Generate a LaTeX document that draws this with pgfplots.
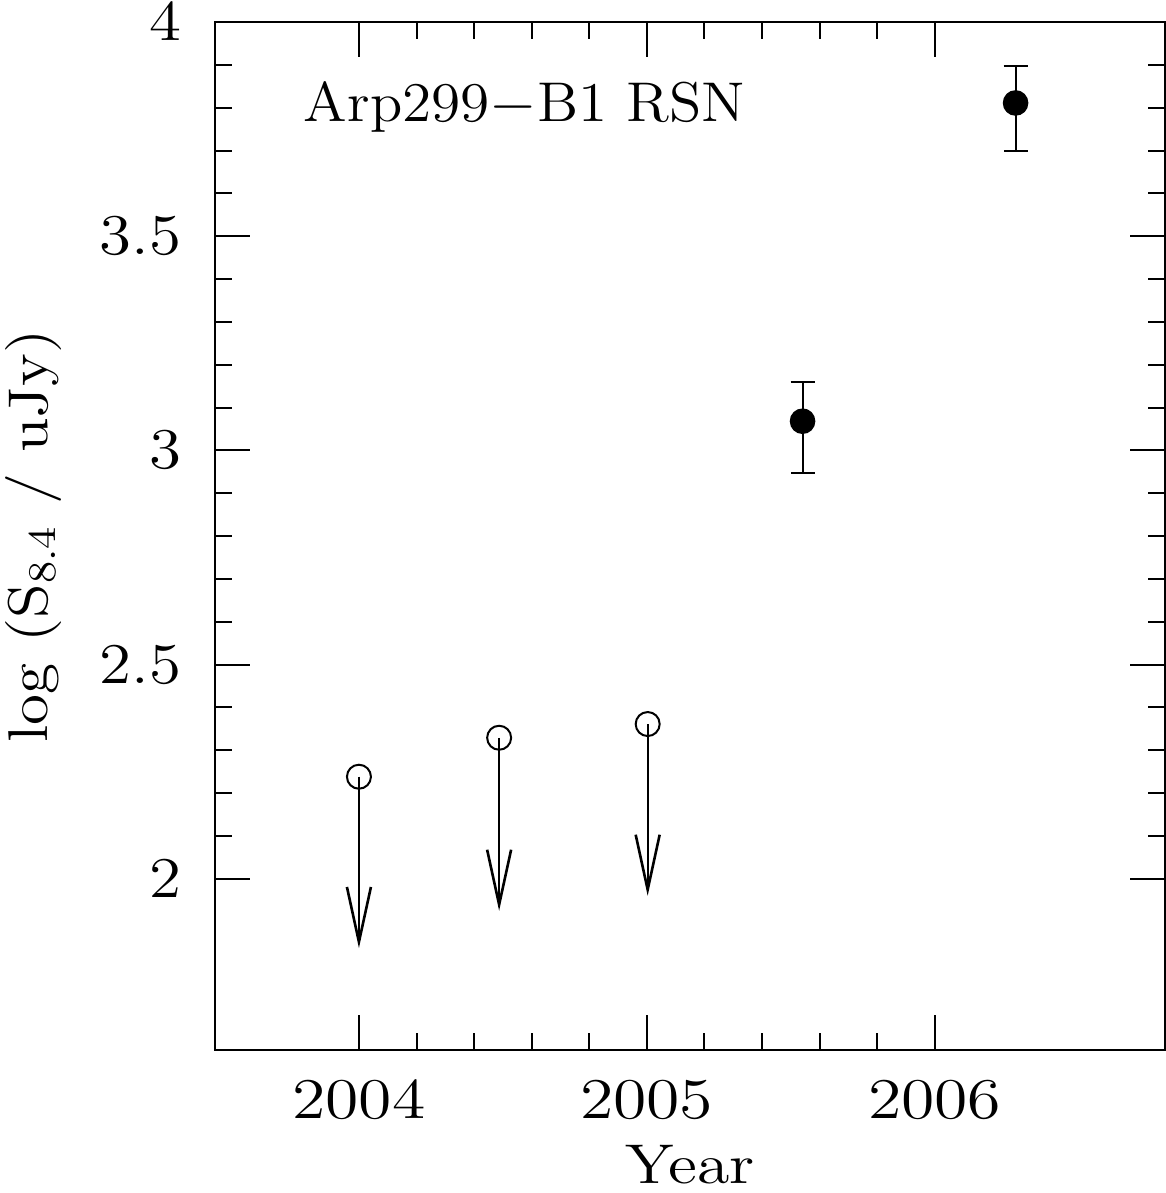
\documentclass[border=0pt]{standalone}
\usepackage{pgfplots}
\pgfplotsset{compat=1.18}
\usetikzlibrary{arrows.meta}
\begin{document}
\fontsize{14}{17}\selectfont
\begin{tikzpicture}
\begin{axis}[
  scale only axis,
  width=237.5pt, height=257pt,
  xmin=2003.5, xmax=2006.8,
  ymin=1.6, ymax=4,
  xtick={2004,2005,2006},
  ytick={2,2.5,3,3.5,4},
  minor x tick num=4,
  minor y tick num=4,
  tick align=inside,
  xtick pos=both, ytick pos=both,
  major tick length=8.75pt,
  minor tick length=4.25pt,
  axis line style={line width=0.6pt},
  every tick/.style={line width=0.5pt, black},
  /pgf/number format/1000 sep={},
  xticklabel={\scalebox{1.18}[1]{$\pgfmathprintnumber{\tick}$}},
  yticklabel={\scalebox{1.13}[1]{$\pgfmathprintnumber{\tick}$}},
  xticklabel style={anchor=base, inner sep=0pt},
  xticklabel shift=17pt,
  yticklabel style={anchor=east, inner sep=0pt},
  yticklabel shift=8.25pt,
  xlabel={\scalebox{1.18}[1]{Year}},
  ylabel={\scalebox{1.13}[1]{log (S\textsubscript{8.4} / uJy)}},
  every axis x label/.style={at={(axis description cs:0.5,-0.1294)}, anchor=base},
  every axis y label/.style={at={(axis description cs:-0.1768,0.5)}, rotate=90, anchor=base},
  clip=false,
]
% detections with error bars
\addplot[only marks, mark=*, mark size=3pt, black,
  error bars/.cd, y dir=both, y explicit,
  error bar style={line width=0.5pt},
  error mark options={rotate=90, mark size=3pt, line width=0.5pt}]
  table[x=x, y=y, y error plus=ep, y error minus=em] {
x        y      ep     em
2005.541 3.068  0.092  0.120
2006.281 3.811  0.087  0.111
};
% upper limits: arrows
\addplot[black, line width=0.5pt, no marks,
  quiver={u=0, v=\thisrow{v}},
  -{Straight Barb[length=13.75pt, width=6pt, line width=0.65pt]}]
  table {
x        y      v
2004.000 2.238  -0.400
2004.487 2.329  -0.404
2005.003 2.361  -0.401
};
% upper limits: open circles
\addplot[only marks, mark=o, mark size=3pt, black, line width=0.5pt]
  table {
x        y
2004.000 2.238
2004.487 2.329
2005.003 2.361
};
\node[anchor=base west, inner sep=0pt] at (axis cs:2003.806,3.767) {\scalebox{1.06}[1]{Arp299$-$B1 RSN}};
\coordinate (sw) at (rel axis cs:0,0);
\coordinate (ne) at (rel axis cs:1,1);
\end{axis}
\pgfresetboundingbox
\path ([shift={(-53.75pt,-35.75pt)}]sw) rectangle ([shift={(0.25pt,5.5pt)}]ne);
\end{tikzpicture}
\end{document}
